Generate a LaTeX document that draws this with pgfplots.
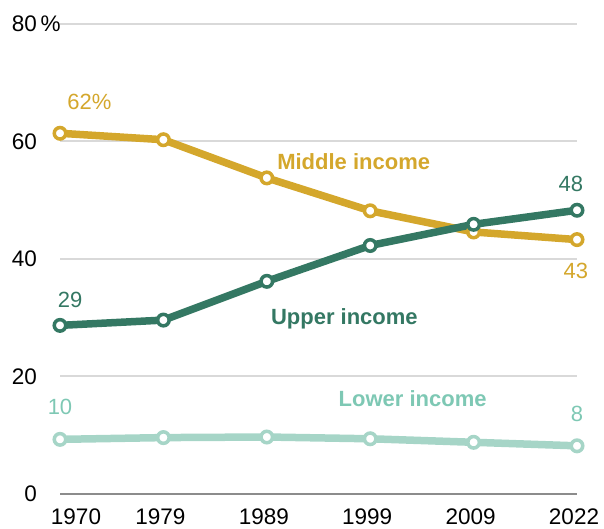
\documentclass[border=0pt]{standalone}
\usepackage{fontspec}
\setmainfont{Liberation Sans}
\usepackage{pgfplots}
\pgfplotsset{compat=1.18}
\definecolor{gold}{HTML}{D4A72C}
\definecolor{upper}{HTML}{347863}
\definecolor{lowerline}{HTML}{A6D5C7}
\definecolor{lowertext}{HTML}{7EC8B4}
\definecolor{gridc}{HTML}{D9D9D9}
\definecolor{axisc}{HTML}{8C8C8C}
\begin{document}
\begin{tikzpicture}[x=1pt,y=1pt]
\path[use as bounding box] (-60,-35) rectangle (544,494);
\begin{axis}[
  at={(0,0)}, anchor=south west,
  scale only axis, width=517pt, height=470pt,
  xmin=0, xmax=5, ymin=0, ymax=80,
  clip=false,
  axis line style={draw=none},
  major tick length=0pt,
  xtick={0,1,2,3,4,5},
  xticklabels={\hspace*{38pt}1970,1979,1989,1999,2009,2022},
  ytick={20,40,60,80},
  yticklabels={20,40,60,80\rlap{\,\%}},
  extra y ticks={0},
  extra y tick labels={0},
  extra y tick style={grid style={draw=axisc, line width=2pt}},
  ymajorgrids,
  grid style={draw=gridc, line width=2pt},
  /pgf/number format/assume math mode=true,
  tick label style={font=\fontsize{22.5}{25}\selectfont, text=black},
  yticklabel style={inner sep=0pt, anchor=east, xshift=-23pt},
  xticklabel style={inner sep=0pt, anchor=north, yshift=-15pt, xshift=-3pt},
]
\addplot[lowerline, line width=7.5pt, mark=*, mark size=5.75pt,
  mark options={fill=white, draw=lowerline, line width=3.5pt}]
  coordinates {(0,9.3) (1,9.6) (2,9.7) (3,9.4) (4,8.8) (5,8.2)};
\addplot[gold, line width=7.5pt, mark=*, mark size=5.75pt,
  mark options={fill=white, draw=gold, line width=3.5pt}]
  coordinates {(0,61.4) (1,60.3) (2,53.8) (3,48.2) (4,44.6) (5,43.3)};
\addplot[upper, line width=7.5pt, mark=*, mark size=5.75pt,
  mark options={fill=white, draw=upper, line width=3.5pt}]
  coordinates {(0,28.7) (1,29.6) (2,36.2) (3,42.3) (4,45.9) (5,48.3)};
\begin{scope}[every node/.style={font=\fontsize{22}{25}\selectfont}]
\node[text=gold] at (axis cs:0.285,66.8) {62\%};
\node[text=upper] at (axis cs:0.097,33.0) {29};
\node[text=lowertext] at (axis cs:0,14.8) {10};
\node[text=upper] at (axis cs:4.94,52.7) {48};
\node[text=gold] at (axis cs:4.99,37.9) {43};
\node[text=lowertext] at (axis cs:5.0,13.6) {8};
\end{scope}
\begin{scope}[every node/.style={font=\fontsize{22}{25}\selectfont\bfseries}]
\node[text=gold] at (axis cs:2.84,56.5) {Middle income};
\node[text=upper] at (axis cs:2.75,29.9) {Upper income};
\node[text=lowertext] at (axis cs:3.41,16.3) {Lower income};
\end{scope}
\end{axis}
\end{tikzpicture}
\end{document}
